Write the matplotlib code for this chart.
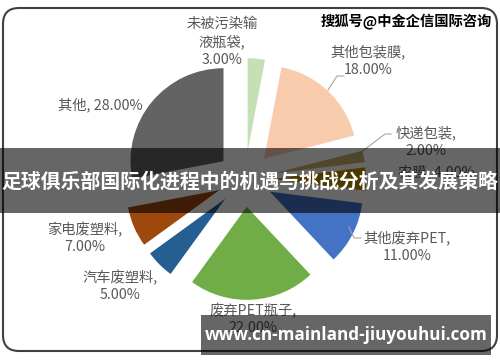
import matplotlib
matplotlib.use("Agg")
import matplotlib.pyplot as plt
from matplotlib.patches import FancyBboxPatch, Rectangle

plt.rcParams['font.family'] = ['Noto Sans CJK SC', 'DejaVu Sans']

# data
categories = ['未被污染输液瓶袋', '其他包装膜', '快递包装', '农膜', '其他废弃PET',
              '废弃PET瓶子', '汽车废塑料', '家电废塑料', '其他']
shares = [3, 18, 2, 4, 11, 22, 5, 7, 28]
colors = ['#C5E0B4', '#F8CBAD', '#CDB06A', '#BF8F00', '#4472C4',
          '#70AD47', '#255E91', '#9E480E', '#636363']
label_texts = ['未被污染输\n液瓶袋,\n3.00%', '其他包装膜,\n18.00%', '快递包装,\n2.00%',
               '农膜, 4.00%', '其他废弃PET,\n11.00%', '废弃PET瓶子,\n22.00%',
               '汽车废塑料,\n5.00%', '家电废塑料,\n7.00%', '其他, 28.00%']
# label centres in pixels (x, y from top)
label_pos = [(222, 42), (368, 61), (426, 142), (436, 172), (407, 247),
             (253, 319), (120, 286), (85, 238), (100, 105)]

title = '足球俱乐部国际化进程中的机遇与挑战分析及其发展策略'
watermark = '搜狐号@中金企信国际咨询'
site = 'www.cn-mainland-jiuyouhui.com'

W, H = 500, 362
fig = plt.figure(figsize=(W / 100, H / 100), dpi=100)

# background layer in pixel coordinates
bg = fig.add_axes([0, 0, 1, 1], zorder=0)
bg.set_xlim(0, W)
bg.set_ylim(H, 0)
bg.axis('off')
bg.add_patch(FancyBboxPatch((3, 8), 494, 343, boxstyle='round,pad=0,rounding_size=16',
                            fill=False, edgecolor='#404040', linewidth=1.5))

# pie
cx, cy, r_px, half = 245, 179, 93, 1.6
ax = fig.add_axes([(cx - half * r_px) / W, (H - cy - half * r_px) / H,
                   2 * half * r_px / W, 2 * half * r_px / H], zorder=1)
ax.pie(shares, colors=colors, startangle=90, counterclock=False,
       explode=[0.3] * len(shares), wedgeprops=dict(linewidth=0))
ax.set_xlim(-half, half)
ax.set_ylim(-half, half)
ax.axis('off')

# labels and leader lines
lab = fig.add_axes([0, 0, 1, 1], zorder=1.5)
lab.set_xlim(0, W)
lab.set_ylim(H, 0)
lab.axis('off')
for txt, (x, y) in zip(label_texts, label_pos):
    lab.text(x, y, txt, ha='center', va='center', fontsize=10.3, color='#595959',
             linespacing=1.3, multialignment='center')
lab.plot([328, 337, 344], [90, 76, 76], color='#A6A6A6', linewidth=0.8)
lab.plot([352, 385, 391], [159, 134, 134], color='#A6A6A6', linewidth=0.8)
lab.plot([349, 354, 361], [227, 238, 238], color='#A6A6A6', linewidth=0.8)

# overlays
ov = fig.add_axes([0, 0, 1, 1], zorder=2)
ov.set_xlim(0, W)
ov.set_ylim(H, 0)
ov.axis('off')
ov.add_patch(Rectangle((0, 148), W, 65, facecolor='black', alpha=0.6, linewidth=0))
ov.text(W / 2, 181, title, ha='center', va='center', color='white',
        fontsize=14.3, fontweight='bold')
ov.add_patch(Rectangle((201, 315), 290, 40, facecolor='black', alpha=0.6, linewidth=0))
ov.text(346, 335, site, ha='center', va='center', color='white',
        fontsize=12.3, fontweight='bold', family=['Open Sans', 'DejaVu Sans'])
ov.text(406, 22, watermark, ha='center', va='center', color='black',
        fontsize=10.3, fontweight='bold')

fig.savefig('out.png', dpi=100)
